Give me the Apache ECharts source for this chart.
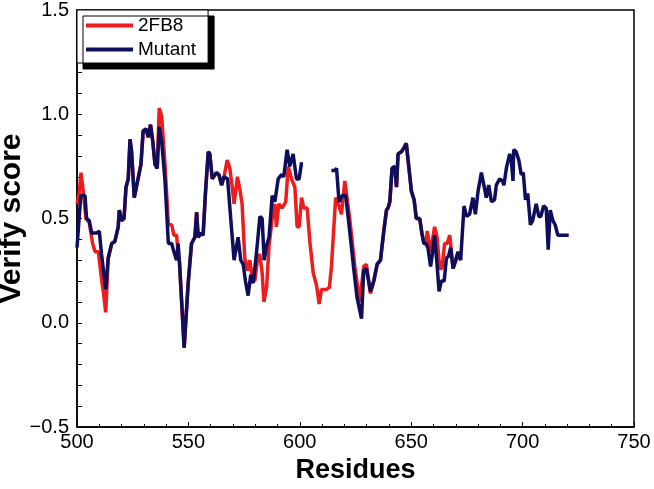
<!DOCTYPE html>
<html>
<head>
<meta charset="utf-8">
<script src="https://cdn.jsdelivr.net/npm/echarts@6/dist/echarts.min.js"></script>
<style>
  html, body { margin: 0; padding: 0; background: #fff; }
  #chart { width: 654px; height: 489px; }
</style>
</head>
<body>
<div id="chart"></div>
<script>
// 2FB8 (red) verify score by residue
const residuesWild = [
  500, 501, 501.8, 502.8, 504, 505.5, 507, 508.1, 509.6, 511, 511.8, 512.9, 514,
  515.6, 517, 518.5, 519, 520, 521.1, 522, 523, 523.8, 524.5, 525.7, 527.2, 528.7,
  529.7, 531, 532, 533, 534, 535, 536, 536.9, 538, 539.5, 541, 542.5, 543.5, 544.7,
  545.4, 546, 548.1, 549.9, 551.4, 552.9, 553.7, 554.4, 555.6, 556.6, 557.7, 558.9,
  559.6, 560.7, 562.6, 563.7, 564.9, 566, 567.4, 568.6, 569.7, 570.5, 572, 573.1,
  574.1, 575.3, 576.5, 577.6, 578.6, 579.8, 581, 582, 583.1, 583.9, 585.1, 586.2,
  587.6, 588.8, 589.5, 590.6, 592, 593.7, 594.8, 596.3, 597.8, 598.8, 599.7, 600.8,
  601.8, 603.3, 604.5, 606, 607.5, 608.7, 609.7, 612, 613.3, 614.2, 616.1, 617.6,
  618.7, 620.2, 620.9, 622.4, 624.7, 626.9, 628.7, 629.9, 631.7, 633.2, 634.7, 636.2,
  637.7, 638.9, 639.6, 640.4, 641.4, 642.6, 643.4, 644.1, 645.6, 646.8, 647.8, 648.9,
  650.1, 651.3, 652.3, 653.8, 654.8, 655.7, 656.7, 657.2, 658.7, 660.5, 661.6, 662.8,
  663.8, 665, 666.1, 667.3, 668.8, 670, 671, 672.2
];
const scoreWild = [
  0.57, 0.62, 0.72, 0.63, 0.50, 0.48, 0.38, 0.34, 0.34, 0.21, 0.15, 0.05, 0.31,
  0.38, 0.39, 0.46, 0.54, 0.49, 0.50, 0.65, 0.69, 0.88, 0.82, 0.60, 0.68, 0.76,
  0.92, 0.93, 0.89, 0.95, 0.87, 0.76, 0.74, 1.03, 0.99, 0.76, 0.47, 0.47, 0.42, 0.42,
  0.33, 0.29, -0.12, 0.19, 0.38, 0.41, 0.53, 0.41, 0.43, 0.42, 0.63, 0.82,
  0.81, 0.69, 0.72, 0.71, 0.66, 0.70, 0.78, 0.74, 0.65, 0.57, 0.70, 0.64,
  0.57, 0.31, 0.25, 0.30, 0.22, 0.20, 0.30, 0.33, 0.24, 0.10, 0.17, 0.37,
  0.50, 0.57, 0.46, 0.57, 0.55, 0.58, 0.75, 0.69, 0.65, 0.46, 0.46, 0.60,
  0.55, 0.55, 0.39, 0.24, 0.18, 0.09, 0.16, 0.16, 0.17, 0.27, 0.60, 0.56,
  0.52, 0.68, 0.68, 0.50, 0.27, 0.10, 0.27, 0.28, 0.14, 0.20, 0.28, 0.30,
  0.44, 0.54, 0.55, 0.58, 0.74, 0.75, 0.65, 0.81, 0.82, 0.84, 0.86, 0.75,
  0.63, 0.59, 0.50, 0.50, 0.43, 0.38, 0.38, 0.44, 0.34, 0.46, 0.41, 0.26,
  0.26, 0.38, 0.38, 0.42, 0.26, 0.30, 0.34, 0.30
];

// Mutant (navy) verify score, null = gap in the trace
const residuesMutant = [
  500, 501.7, 503.6, 504.3, 505.5, 506.6, 508.8, 510, 511, 512.9, 514, 515.6, 517,
  518.5, 519, 520, 521.1, 522, 523, 523.8, 524.5, 525.7, 527.2, 528.7, 529.7, 531,
  532, 533, 534, 535, 536, 536.9, 538, 539.5, 541, 542.5, 543.5, 544.7, 545.4, 546,
  548.1, 549.9, 551.4, 552.9, 553.7, 554.4, 555.6, 556.6, 557.7, 558.9, 559.6, 560.7,
  562.6, 563.7, 564.9, 565.9, 567.6, 569, 570.5, 572.3, 573.5, 574.6, 575.6, 576.8,
  578, 579.1, 580.6, 582.1, 583.1, 584, 585.1, 586.2, 587.6, 588.8, 590.3, 591.8,
  592.8, 594.3, 595.5, 597, 598.5, 599.7, 600.8, 607,
  614.2, 615.7, 616.5, 617.6, 619.1, 620.6, 622.4, 624.2, 625.7, 627.7, 628.7, 629.9,
  631.7, 633.2, 634.7, 636.2, 637.7, 638.9, 639.6, 640.4, 641.4, 642.6, 643.4, 644.1,
  645.6, 646.8, 647.8, 648.9, 650.1, 651.3, 652.3, 653.8, 654.8, 655.7, 656.7, 657.5,
  658.7, 659.5, 660.5, 661.6, 662.5, 663.5, 664.8, 665.8, 666.8, 667.7, 668.8, 670,
  671, 672.2, 673.7, 674.8, 676.2, 677.7, 678.8, 680, 681.5, 683, 683.7, 684.8,
  686, 687.4, 688.2, 689.7, 691, 691.6, 692.7, 694.2, 695, 695.7, 696, 697.1,
  698.3, 699.4, 700.3, 701.3, 702.3, 703.5, 704.5, 706.1, 707.3, 708.2, 709.4, 710.6,
  711.5, 712.4, 713.6, 714.6, 715.8, 720.7
];
const scoreMutant = [
  0.36, 0.61, 0.61, 0.50, 0.49, 0.43, 0.43, 0.44, 0.33, 0.16, 0.31, 0.38, 0.39,
  0.46, 0.54, 0.49, 0.50, 0.65, 0.69, 0.88, 0.82, 0.60, 0.68, 0.76, 0.92, 0.93,
  0.89, 0.95, 0.87, 0.76, 0.74, 0.94, 0.87, 0.68, 0.38, 0.38, 0.34, 0.30, 0.38, 0.29,
  -0.12, 0.19, 0.38, 0.41, 0.53, 0.41, 0.43, 0.42, 0.63, 0.82, 0.81, 0.69,
  0.72, 0.71, 0.66, 0.70, 0.69, 0.50, 0.30, 0.41, 0.30, 0.28, 0.20, 0.13,
  0.23, 0.19, 0.34, 0.51, 0.50, 0.30, 0.37, 0.41, 0.61, 0.58, 0.69, 0.71,
  0.70, 0.83, 0.75, 0.81, 0.69, 0.69, 0.77, null,
  0.73, 0.73, 0.74, 0.58, 0.61, 0.61, 0.44, 0.26, 0.12, 0.02, 0.25, 0.26,
  0.15, 0.20, 0.28, 0.30, 0.44, 0.54, 0.55, 0.58, 0.74, 0.75, 0.65, 0.81,
  0.82, 0.84, 0.86, 0.75, 0.63, 0.59, 0.50, 0.50, 0.43, 0.38, 0.38, 0.36,
  0.27, 0.33, 0.42, 0.28, 0.15, 0.20, 0.20, 0.31, 0.32, 0.36, 0.26, 0.30,
  0.34, 0.30, 0.56, 0.51, 0.52, 0.60, 0.52, 0.63, 0.72, 0.64, 0.60, 0.66,
  0.58, 0.59, 0.66, 0.69, 0.68, 0.66, 0.74, 0.81, 0.77, 0.68, 0.83, 0.82,
  0.78, 0.71, 0.72, 0.59, 0.62, 0.47, 0.49, 0.57, 0.51, 0.51, 0.56, 0.55,
  0.35, 0.54, 0.49, 0.47, 0.42, 0.42
];

const toPairs = (xs, ys) => xs.map((x, i) => [x, ys[i] === null ? '-' : ys[i]]);

const chart = echarts.init(document.getElementById('chart'));

const option = {
  animation: false,
  backgroundColor: '#fff',
  textStyle: { fontFamily: 'Liberation Sans, Arial, sans-serif' },
  grid: {
    left: 77,
    right: 20,
    top: 10,
    bottom: 62,
    outerBoundsMode: 'none',
    containLabel: false,
    show: true,
    borderColor: '#000',
    borderWidth: 1.5,
  },
  legend: {
    orient: 'vertical',
    left: 77,
    top: 10,
    padding: [6, 12, 4, 9],
    itemGap: 5,
    itemWidth: 47,
    itemHeight: 4,
    icon: 'rect',
    backgroundColor: '#fff',
    borderColor: '#000',
    borderWidth: 1,
    shadowColor: '#000',
    shadowBlur: 0,
    shadowOffsetX: 6,
    shadowOffsetY: 6,
    textStyle: { fontSize: 19, color: '#000', lineHeight: 19 },
    data: ['2FB8', 'Mutant'],
  },
  xAxis: {
    type: 'value',
    min: 500,
    max: 750,
    interval: 50,
    name: 'Residues',
    nameLocation: 'middle',
    nameGap: 29,
    nameTextStyle: { fontSize: 27, fontWeight: 'bold', color: '#000' },
    axisLine: { onZero: false, lineStyle: { color: '#000', width: 1.5 } },
    axisTick: { inside: true, length: 5, lineStyle: { color: '#000' } },
    minorTick: { show: true, splitNumber: 5, length: 3, lineStyle: { color: '#000' } },
    axisLabel: { fontSize: 20, color: '#000', margin: 5 },
    splitLine: { show: false },
  },
  yAxis: {
    type: 'value',
    min: -0.5,
    max: 1.5,
    interval: 0.5,
    name: 'Verify score',
    nameLocation: 'middle',
    nameMoveOverlap: false,
    nameGap: 50,
    nameTextStyle: { fontSize: 30, fontWeight: 'bold', color: '#000' },
    axisLine: { show: true, onZero: false, lineStyle: { color: '#000', width: 1.5 } },
    axisTick: { inside: true, length: 5, lineStyle: { color: '#000' } },
    minorTick: { show: true, splitNumber: 5, length: 5, lineStyle: { color: '#000' } },
    axisLabel: {
      fontSize: 20,
      color: '#000',
      margin: 8,
      formatter: (v) => (v < 0 ? '\u2212' + Math.abs(v).toFixed(1) : v.toFixed(1)),
    },
    splitLine: { show: false },
  },
  series: [
    {
      name: '2FB8',
      type: 'line',
      symbol: 'none',
      data: toPairs(residuesWild, scoreWild),
      lineStyle: { color: '#ee1c1c', width: 3.5 },
      itemStyle: { color: '#ee1c1c' },
    },
    {
      name: 'Mutant',
      type: 'line',
      symbol: 'none',
      data: toPairs(residuesMutant, scoreMutant),
      lineStyle: { color: '#0e0e5a', width: 3.5 },
      itemStyle: { color: '#0e0e5a' },
    },
  ],
};

chart.setOption(option);
</script>
</body>
</html>
